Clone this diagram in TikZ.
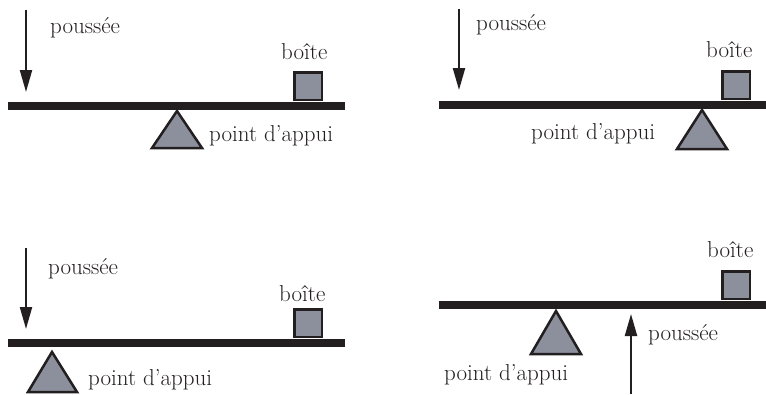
\documentclass[tikz,border=0pt]{standalone}
\usetikzlibrary{arrows.meta}
\definecolor{fillgray}{HTML}{8C8F9C}
\definecolor{ink}{HTML}{231F20}
\begin{document}
\begin{tikzpicture}[x=1pt,y=-1pt,
  beam/.style={rectangle,fill=ink,draw=none,inner sep=0pt,minimum height=8pt},
  boxn/.style={rectangle,fill=fillgray,draw=ink,line width=2.5pt,inner sep=0pt,minimum size=27.5pt},
  fulcrum/.style={fill=fillgray,draw=ink,line width=2.5pt,line join=miter},
  push/.style={draw=ink,line width=2.2pt,-{Triangle[width=12pt,length=22pt]}},
  lbl/.style={anchor=base west,inner sep=0pt,text=ink,font=\fontsize{23}{27}\selectfont}]
\useasboundingbox (0,0) rectangle (766,394);
% ---------- panel 1 ----------
\node[beam,minimum width=337pt] (b1) at (176.5,106) {};
\node[boxn] (x1) at (308,86) {};
\coordinate (p1a) at (26,10);
\coordinate (p1b) at (26,92);
\draw[push] (p1a) -- (p1b);
\coordinate (f1t) at (177,111); \coordinate (f1l) at (152,148); \coordinate (f1r) at (202,148);
\draw[fulcrum] (f1t) -- (f1l) -- (f1r) -- cycle;
\node[lbl] (t1a) at (50,33) {poussée};
\node[lbl] (t1b) at (281,59) {boîte};
\node[lbl] (t1c) at (209,141) {point d’appui};
% ---------- panel 2 ----------
\node[beam,minimum width=327pt] (b2) at (602.5,105) {};
\node[boxn] (x2) at (736,85) {};
\coordinate (p2a) at (459,9);
\coordinate (p2b) at (459,90);
\draw[push] (p2a) -- (p2b);
\coordinate (f2t) at (702,110); \coordinate (f2l) at (677,149); \coordinate (f2r) at (727,149);
\draw[fulcrum] (f2t) -- (f2l) -- (f2r) -- cycle;
\node[lbl] (t2a) at (476,30) {poussée};
\node[lbl] (t2b) at (706,57) {boîte};
\node[lbl] (t2c) at (531,139) {point d’appui};
% ---------- panel 3 ----------
\node[beam,minimum width=337pt] (b3) at (176.5,343) {};
\node[boxn] (x3) at (308,323) {};
\coordinate (p3a) at (26,248);
\coordinate (p3b) at (26,329);
\draw[push] (p3a) -- (p3b);
\coordinate (f3t) at (52,352); \coordinate (f3l) at (28,392); \coordinate (f3r) at (77,392);
\draw[fulcrum] (f3t) -- (f3l) -- (f3r) -- cycle;
\node[lbl] (t3a) at (48,274) {poussée};
\node[lbl] (t3b) at (279,301) {boîte};
\node[lbl] (t3c) at (88,385) {point d’appui};
% ---------- panel 4 ----------
\node[beam,minimum width=327pt] (b4) at (602.5,305) {};
\node[boxn] (x4) at (736,285) {};
\coordinate (p4a) at (631,394);
\coordinate (p4b) at (631,314);
\draw[push] (p4a) -- (p4b);
\coordinate (f4t) at (556,311); \coordinate (f4l) at (531,354); \coordinate (f4r) at (581,354);
\draw[fulcrum] (f4t) -- (f4l) -- (f4r) -- cycle;
\node[lbl] (t4a) at (648,340) {poussée};
\node[lbl] (t4b) at (707,257) {boîte};
\node[lbl] (t4c) at (444,380) {point d’appui};
\end{tikzpicture}
\end{document}
